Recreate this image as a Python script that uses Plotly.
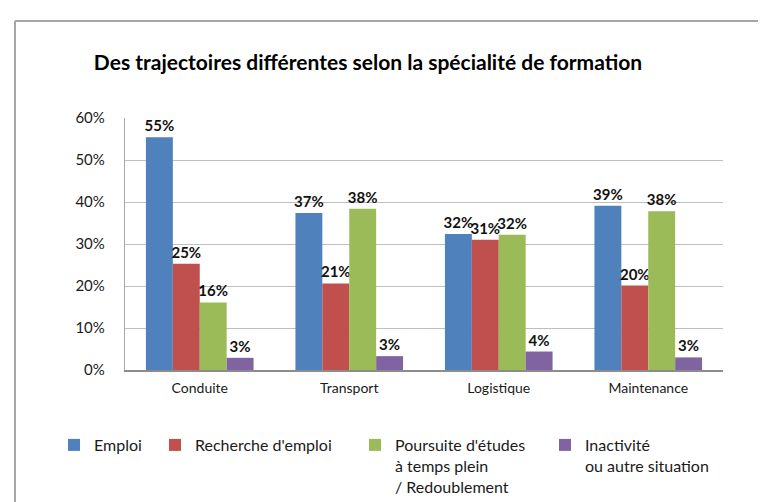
import plotly.graph_objects as go

categories = ["Conduite", "Transport", "Logistique", "Maintenance"]
series_names = [
    "Emploi",
    "Recherche d'emploi",
    "Poursuite d'études<br>à temps plein<br>/ Redoublement",
    "Inactivité<br>ou autre situation",
]
emploi = [55.4, 37.4, 32.4, 39.1]
recherche = [25.3, 20.6, 31.0, 20.1]
poursuite = [16.1, 38.4, 32.2, 37.8]
inactivite = [2.9, 3.3, 4.4, 3.0]
y_ticks = [0, 10, 20, 30, 40, 50, 60]
y_tick_labels = ["0%", "10%", "20%", "30%", "40%", "50%", "60%"]

colors = ["#4F81BD", "#C0504D", "#9BBB59", "#8064A2"]
values = [emploi, recherche, poursuite, inactivite]
legend_ids = ["legend", "legend2", "legend3", "legend4"]
legend_x_px = [46, 147, 347, 537]

FONT = "Lato"
W, H = 766, 502

fig = go.Figure()
for name, vals, col, lg in zip(series_names, values, colors, legend_ids):
    fig.add_trace(go.Bar(
        x=categories, y=vals, name=name, legend=lg,
        marker=dict(color=col, line=dict(width=0)),
        texttemplate="%{y:.0f}%", textposition="outside",
        constraintext="none",
        textfont=dict(family=FONT, size=15, color="#111111", weight="bold"),
        cliponaxis=False,
    ))

legend_common = dict(
    orientation="v", xref="container", yref="container",
    yanchor="top", xanchor="left", bgcolor="rgba(0,0,0,0)",
    font=dict(family=FONT, size=16, color="#1a1a1a"),
    itemclick=False, itemdoubleclick=False, valign="top",
    tracegroupgap=0,
)
legends = {}
for lg, xp in zip(legend_ids, legend_x_px):
    legends[lg] = dict(legend_common, x=xp / W, y=1 - 420 / H)

fig.update_layout(
    width=W, height=H,
    margin=dict(l=117, r=51, t=110, b=140, autoexpand=False),
    paper_bgcolor="white", plot_bgcolor="white",
    barmode="group", bargap=0.28, bargroupgap=0,
    font=dict(family=FONT, size=14, color="#1a1a1a"),
    title=dict(
        text="<b>Des trajectoires différentes selon la spécialité de formation</b>",
        x=360 / W, xanchor="center", xref="container",
        y=1 - 55 / H, yanchor="middle", yref="container",
        font=dict(family=FONT, size=21, color="#000000"),
    ),
    yaxis=dict(
        range=[0, 60], tickmode="array", tickvals=y_ticks, ticktext=y_tick_labels,
        showgrid=True, gridcolor="#BFBFBF", gridwidth=1.3,
        showline=True, linecolor="#A6A6A6", linewidth=1.3,
        ticks="", ticklabelstandoff=16, zeroline=False,
        tickfont=dict(family=FONT, size=15, color="#1a1a1a"),
        fixedrange=True, automargin=False,
    ),
    xaxis=dict(
        showline=True, linecolor="#8C8C8C", linewidth=1.5,
        ticks="", ticklabelstandoff=4, tickangle=0,
        tickfont=dict(family=FONT, size=14, color="#1a1a1a"),
        fixedrange=True, automargin=False,
    ),
    showlegend=True,
    shapes=[
        dict(type="line", xref="paper", yref="paper",
             x0=(7 - 117) / 598, x1=(W - 117) / 598, y0=(362 - 13) / 252, y1=(362 - 13) / 252,
             line=dict(color="#A6A6A6", width=2)),
        dict(type="line", xref="paper", yref="paper",
             x0=(7 - 117) / 598, x1=(7 - 117) / 598, y0=(362 - 13) / 252, y1=(362 - H) / 252,
             line=dict(color="#A6A6A6", width=2)),
    ],
    **legends,
)

fig.write_html("out.html")
